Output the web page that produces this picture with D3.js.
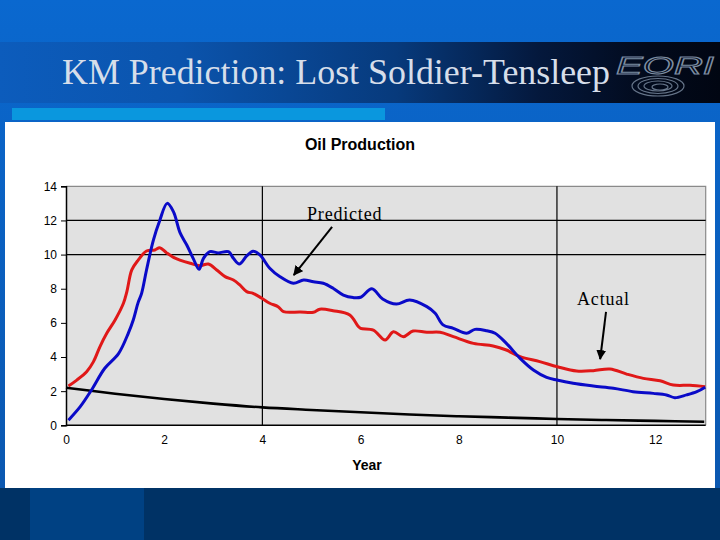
<!DOCTYPE html>
<html>
<head>
<meta charset="utf-8">
<script src="https://cdn.jsdelivr.net/npm/d3@7"></script>
<style>
html,body{margin:0;padding:0;background:#0a64c8;}
svg{display:block;}
</style>
</head>
<body>
<svg id="chart" width="720" height="540"></svg>
<script>
// ---- data ----
const slideTitle = "KM Prediction: Lost Soldier-Tensleep";
const chartTitle = "Oil Production";
const xAxisTitle = "Year";
const xTicks = [0, 2, 4, 6, 8, 10, 12];
const yTicks = [0, 2, 4, 6, 8, 10, 12, 14];
const xGrid = [4, 10];
const yGrid = [10, 12];

const predictedYears = [0.05,0.29,0.52,0.79,1.07,1.27,1.37,1.47,1.54,1.64,1.78,1.91,2.06,2.19,2.32,2.46,2.59,2.71,2.80,2.93,3.10,3.31,3.41,3.53,3.68,3.81,3.95,4.15,4.36,4.63,4.84,5.04,5.24,5.44,5.65,5.85,6.0,6.23,6.45,6.73,7.0,7.35,7.52,7.68,7.89,8.16,8.33,8.57,8.74,8.97,9.25,9.52,9.79,10.0,10.33,10.74,11.15,11.55,11.96,12.23,12.40,12.64,12.85,13.02];
const predicted = [0.3,1.09,2.07,3.34,4.2,5.4,6.17,7.2,7.73,9.1,10.85,12.0,13.0,12.5,11.3,10.56,9.78,9.14,9.78,10.17,10.1,10.17,9.78,9.45,9.92,10.2,9.98,9.2,8.7,8.32,8.51,8.41,8.32,8.03,7.63,7.48,7.5,8.0,7.4,7.1,7.34,6.95,6.56,5.88,5.68,5.39,5.62,5.54,5.39,4.8,3.92,3.24,2.81,2.65,2.46,2.3,2.17,1.97,1.87,1.78,1.62,1.78,1.97,2.23];

const actualYears = [0.05,0.22,0.42,0.56,0.69,0.83,1.0,1.17,1.24,1.34,1.47,1.64,1.81,1.91,2.05,2.19,2.32,2.53,2.73,2.90,3.07,3.24,3.41,3.54,3.68,3.81,3.99,4.15,4.32,4.43,4.77,5.04,5.17,5.44,5.78,5.95,6.0,6.26,6.50,6.67,6.87,7.07,7.35,7.62,7.89,8.30,8.70,8.97,9.25,9.65,10.01,10.40,10.74,11.08,11.42,11.76,12.1,12.37,12.71,13.02];
const actual = [2.3,2.65,3.14,3.73,4.6,5.39,6.17,7.15,7.83,9.1,9.68,10.21,10.27,10.4,10.1,9.84,9.68,9.49,9.35,9.45,9.1,8.71,8.51,8.22,7.83,7.73,7.44,7.15,6.95,6.66,6.64,6.62,6.8,6.71,6.46,5.8,5.68,5.58,5.0,5.48,5.19,5.52,5.45,5.45,5.19,4.8,4.65,4.41,4.02,3.73,3.43,3.18,3.2,3.3,3.0,2.75,2.61,2.36,2.34,2.26];

const declineYears = [0,1,2,3,4,5,6,7,8,9,10,11,12,13];
const decline = [2.2,1.85,1.54,1.27,1.05,0.9,0.76,0.63,0.53,0.45,0.37,0.31,0.26,0.21];

// annotations (data units)
const annotationLabels = ["Predicted", "Actual"];
const annotationText = [[4.91, 12.03], [10.41, 7.05]];
const annotationArrows = [[5.42, 11.62, 4.64, 8.8], [11.0, 6.64, 10.88, 3.88]];

// ---- drawing ----
const svg = d3.select("#chart");
const defs = svg.append("defs");

const bgGrad = defs.append("linearGradient").attr("id","bg").attr("x1",0).attr("y1",0).attr("x2",0).attr("y2",1);
bgGrad.append("stop").attr("offset","0%").attr("stop-color","#0a68cf");
bgGrad.append("stop").attr("offset","100%").attr("stop-color","#0b56ad");

const bandGrad = defs.append("linearGradient").attr("id","band").attr("x1",0).attr("y1",0).attr("x2",1).attr("y2",0);
[["0%","#0c5cbc"],["25%","#0b54ad"],["55%","#073a7c"],["75%","#04183c"],["90%","#020a1c"],["100%","#010612"]]
  .forEach(s => bandGrad.append("stop").attr("offset",s[0]).attr("stop-color",s[1]));

svg.append("rect").attr("width",720).attr("height",540).attr("fill","url(#bg)");
svg.append("rect").attr("x",0).attr("y",42).attr("width",720).attr("height",61).attr("fill","url(#band)");
svg.append("rect").attr("x",12).attr("y",108).attr("width",373).attr("height",12).attr("fill","#0a97de");
svg.append("rect").attr("x",0).attr("y",488).attr("width",720).attr("height",52).attr("fill","#003265");
svg.append("rect").attr("x",30).attr("y",488).attr("width",114).attr("height",52).attr("fill","#004183");

// slide title
svg.append("text").attr("x",62).attr("y",84)
  .attr("font-family","'Liberation Serif','Times New Roman',serif").attr("font-size",36)
  .attr("textLength",548).attr("lengthAdjust","spacingAndGlyphs")
  .attr("fill","#d6deea").text(slideTitle);

// logo
const logo = svg.append("g").attr("fill","none").attr("stroke","#7d8da2").attr("stroke-width",1.2);
logo.append("text").attr("x",616).attr("y",74)
  .attr("font-family","'Liberation Sans',Arial,sans-serif").attr("font-size",24).attr("font-style","italic")
  .attr("textLength",98).attr("lengthAdjust","spacingAndGlyphs")
  .attr("fill","none").attr("stroke","#7d8da2").attr("stroke-width",1).text("EORI");
[[658,86,26,10],[658,86,20,7.5],[658,86,14,5],[660,87,8,3]].forEach(e => {
  logo.append("ellipse").attr("cx",e[0]).attr("cy",e[1]).attr("rx",e[2]).attr("ry",e[3]).attr("opacity",0.8);
});

// white chart panel
svg.append("rect").attr("x",5).attr("y",122).attr("width",710).attr("height",366).attr("fill","#ffffff");

const plot = {left:66, top:186.3, right:705.7, bottom:425.3};
const x = d3.scaleLinear().domain([0, 13.03]).range([plot.left, plot.right]);
const y = d3.scaleLinear().domain([0, 14]).range([plot.bottom, plot.top]);

svg.append("rect").attr("x",plot.left).attr("y",plot.top)
  .attr("width",plot.right-plot.left).attr("height",plot.bottom-plot.top).attr("fill","#e1e1e1");

svg.append("path").attr("d",`M${plot.left},${plot.top}H${plot.right}V${plot.bottom}`)
  .attr("fill","none").attr("stroke","#8a8a8a").attr("stroke-width",1.2);

// gridlines
svg.append("g").selectAll("line").data(yGrid).join("line")
  .attr("x1",plot.left).attr("x2",plot.right).attr("y1",d=>y(d)).attr("y2",d=>y(d))
  .attr("stroke","#000").attr("stroke-width",1.2);
svg.append("g").selectAll("line").data(xGrid).join("line")
  .attr("y1",plot.top).attr("y2",plot.bottom).attr("x1",d=>x(d)).attr("x2",d=>x(d))
  .attr("stroke","#000").attr("stroke-width",1.2);

// axes
const yAxis = svg.append("g").attr("transform",`translate(${plot.left},0)`)
  .call(d3.axisLeft(y).tickValues(yTicks).tickSize(5).tickPadding(4).tickFormat(d3.format("d")));
const xAxis = svg.append("g").attr("transform",`translate(0,${plot.bottom})`)
  .call(d3.axisBottom(x).tickValues(xTicks).tickSize(0).tickPadding(10).tickFormat(d3.format("d")));
[yAxis, xAxis].forEach(a => {
  a.select(".domain").attr("stroke","#000").attr("stroke-width",1.5);
  a.selectAll(".tick line").attr("stroke","#000");
  a.selectAll("text").attr("font-family","'Liberation Sans',Arial,sans-serif").attr("font-size",12).attr("fill","#000");
});
xAxis.select(".domain").attr("d",`M${plot.left},0H${plot.right}`);

// series
const line = d3.line().x(d=>x(d[0])).y(d=>y(d[1])).curve(d3.curveCatmullRom.alpha(0.5));
const zip = (a,b) => a.map((v,i)=>[v,b[i]]);
svg.append("path").datum(zip(declineYears, decline)).attr("d",line)
  .attr("fill","none").attr("stroke","#000").attr("stroke-width",2.6);
svg.append("path").datum(zip(actualYears, actual)).attr("d",line)
  .attr("fill","none").attr("stroke","#e01818").attr("stroke-width",3).attr("stroke-linejoin","round");
svg.append("path").datum(zip(predictedYears, predicted)).attr("d",line)
  .attr("fill","none").attr("stroke","#0a0ac8").attr("stroke-width",3).attr("stroke-linejoin","round");

// titles
svg.append("text").attr("x",360).attr("y",150).attr("text-anchor","middle")
  .attr("font-family","'Liberation Sans',Arial,sans-serif").attr("font-weight","bold").attr("font-size",16)
  .text(chartTitle);
svg.append("text").attr("x",367).attr("y",470).attr("text-anchor","middle")
  .attr("font-family","'Liberation Sans',Arial,sans-serif").attr("font-weight","bold").attr("font-size",14)
  .text(xAxisTitle);

// annotations
defs.append("marker").attr("id","arrow").attr("viewBox","0 0 10 10").attr("refX",9).attr("refY",5)
  .attr("markerWidth",5).attr("markerHeight",5).attr("orient","auto")
  .append("path").attr("d","M0,0L10,5L0,10z").attr("fill","#000");
annotationLabels.forEach((lab,i) => {
  svg.append("text").attr("x",x(annotationText[i][0])).attr("y",y(annotationText[i][1]))
    .attr("font-family","'Liberation Serif','Times New Roman',serif").attr("font-size",18)
    .attr("letter-spacing",0.8).attr("fill","#000").text(lab);
  const a = annotationArrows[i];
  svg.append("line").attr("x1",x(a[0])).attr("y1",y(a[1])).attr("x2",x(a[2])).attr("y2",y(a[3]))
    .attr("stroke","#000").attr("stroke-width",2).attr("marker-end","url(#arrow)");
});
</script>
</body>
</html>
